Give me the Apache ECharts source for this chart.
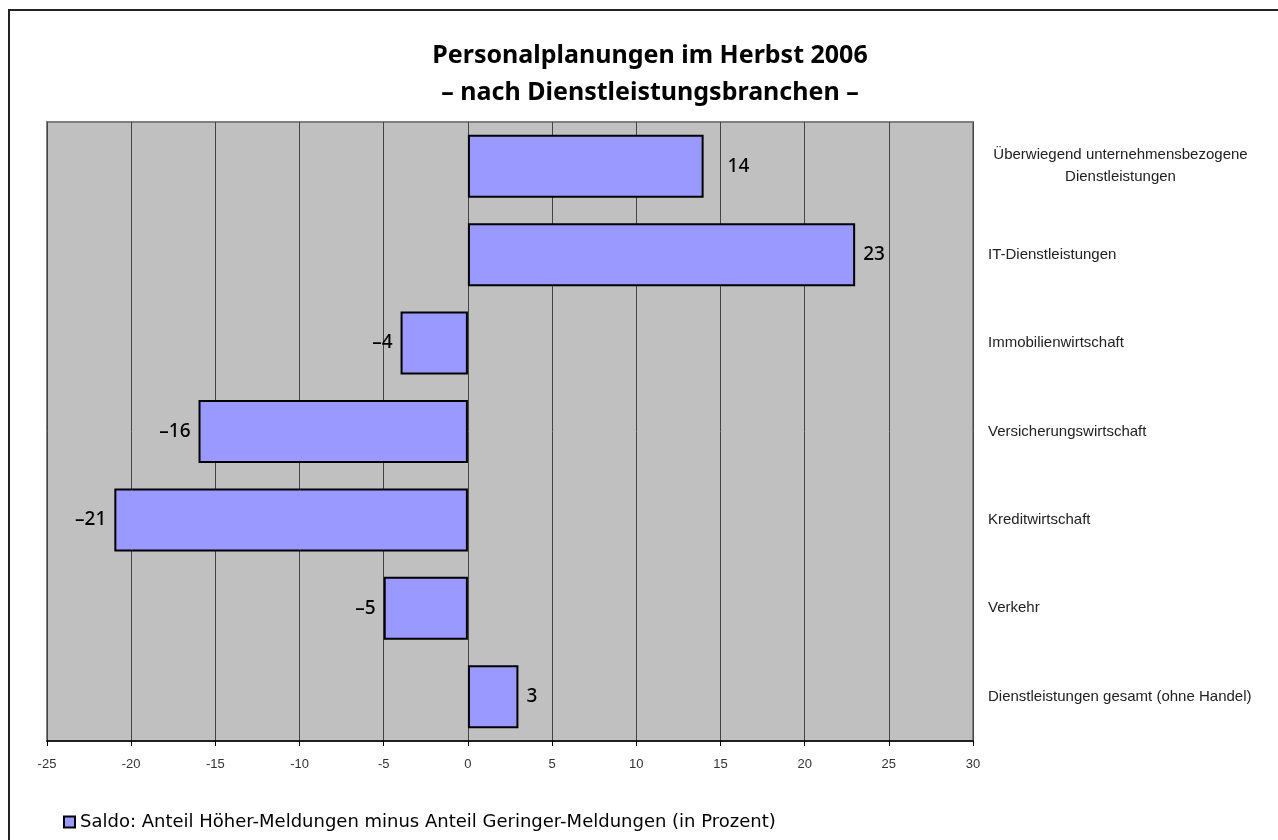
<!DOCTYPE html>
<html>
<head>
<meta charset="utf-8">
<title>Personalplanungen im Herbst 2006</title>
<script src="https://cdn.jsdelivr.net/npm/echarts@6/dist/echarts.min.js"></script>
<style>
  html, body { margin: 0; padding: 0; background: #fff; }
  #chart { width: 1278px; height: 840px; }
</style>
</head>
<body>
<div id="chart"></div>
<script>
// Branchen von oben nach unten
const branchen = [
  'Überwiegend unternehmensbezogene\nDienstleistungen',
  'IT-Dienstleistungen',
  'Immobilienwirtschaft',
  'Versicherungswirtschaft',
  'Kreditwirtschaft',
  'Verkehr',
  'Dienstleistungen gesamt (ohne Handel)'
];
// Saldo in Prozent
const saldo = [14, 23, -4, -16, -21, -5, 3];
const serienName = 'Saldo: Anteil Höher-Meldungen minus Anteil Geringer-Meldungen (in Prozent)';

let myChart = echarts.init(document.getElementById('chart'));

// Datenpunkte mit Labelposition je nach Vorzeichen
let barData = saldo.map((v, i) => {
  let item = { value: v, label: { position: v < 0 ? 'left' : 'right' } };
  if (i === 0) item.label.distance = 24;
  return item;
});

let option = {
  animation: false,
  title: {
    text: 'Personalplanungen im Herbst 2006\n– nach Dienstleistungsbranchen –',
    left: 645,
    top: 32,
    textAlign: 'center',
    textStyle: {
      fontFamily: 'Noto Sans',
      fontSize: 25,
      fontWeight: 'bold',
      lineHeight: 37,
      color: '#000'
    }
  },
  graphic: [
    {
      type: 'rect',
      shape: { x: 9, y: 10, width: 1300, height: 900 },
      style: { fill: 'none', stroke: '#222', lineWidth: 2 },
      silent: true
    }
  ],
  legend: {
    left: 58,
    top: 808,
    itemWidth: 11,
    itemHeight: 11,
    icon: 'rect',
    textStyle: { fontFamily: 'DejaVu Sans', fontSize: 18, color: '#000' },
    data: [serienName]
  },
  grid: {
    left: 47,
    right: 305,
    top: 122,
    bottom: 99,
    show: true,
    backgroundColor: '#c0c0c0',
    borderColor: '#808080',
    borderWidth: 2
  },
  xAxis: {
    type: 'value',
    min: -25,
    max: 30,
    interval: 5,
    axisLine: { show: true, onZero: false, lineStyle: { color: '#000', width: 1.5 } },
    axisTick: { show: true, length: 5, lineStyle: { color: '#000' } },
    axisLabel: {
      margin: 17,
      fontFamily: 'Liberation Sans',
      fontSize: 13,
      color: '#333'
    },
    splitLine: { show: true, lineStyle: { color: '#444', width: 1 } }
  },
  yAxis: {
    type: 'category',
    inverse: true,
    position: 'right',
    data: branchen,
    axisLine: { show: false },
    axisTick: { show: false },
    splitLine: { show: false },
    axisLabel: {
      margin: 15,
      fontFamily: 'Liberation Sans',
      fontSize: 15,
      color: '#222',
      formatter: function (v) {
        if (v.indexOf('\n') >= 0) {
          return v.split('\n').map(s => '{c|' + s + '}').join('\n');
        }
        return v;
      },
      rich: {
        c: {
          width: 265,
          align: 'center',
          fontFamily: 'Liberation Sans',
          fontSize: 15,
          color: '#222',
          lineHeight: 22
        }
      }
    }
  },
  series: [
    {
      name: serienName,
      type: 'bar',
      data: barData,
      barWidth: 63,
      itemStyle: {
        color: '#9999ff',
        borderColor: '#000',
        borderWidth: 2
      },
      label: {
        show: true,
        distance: 8,
        fontFamily: 'Noto Sans',
        fontSize: 19,
        fontWeight: 500,
        color: '#000',
        formatter: p => String(p.value).replace('-', '–')
      }
    }
  ]
};

myChart.setOption(option);
</script>
</body>
</html>
